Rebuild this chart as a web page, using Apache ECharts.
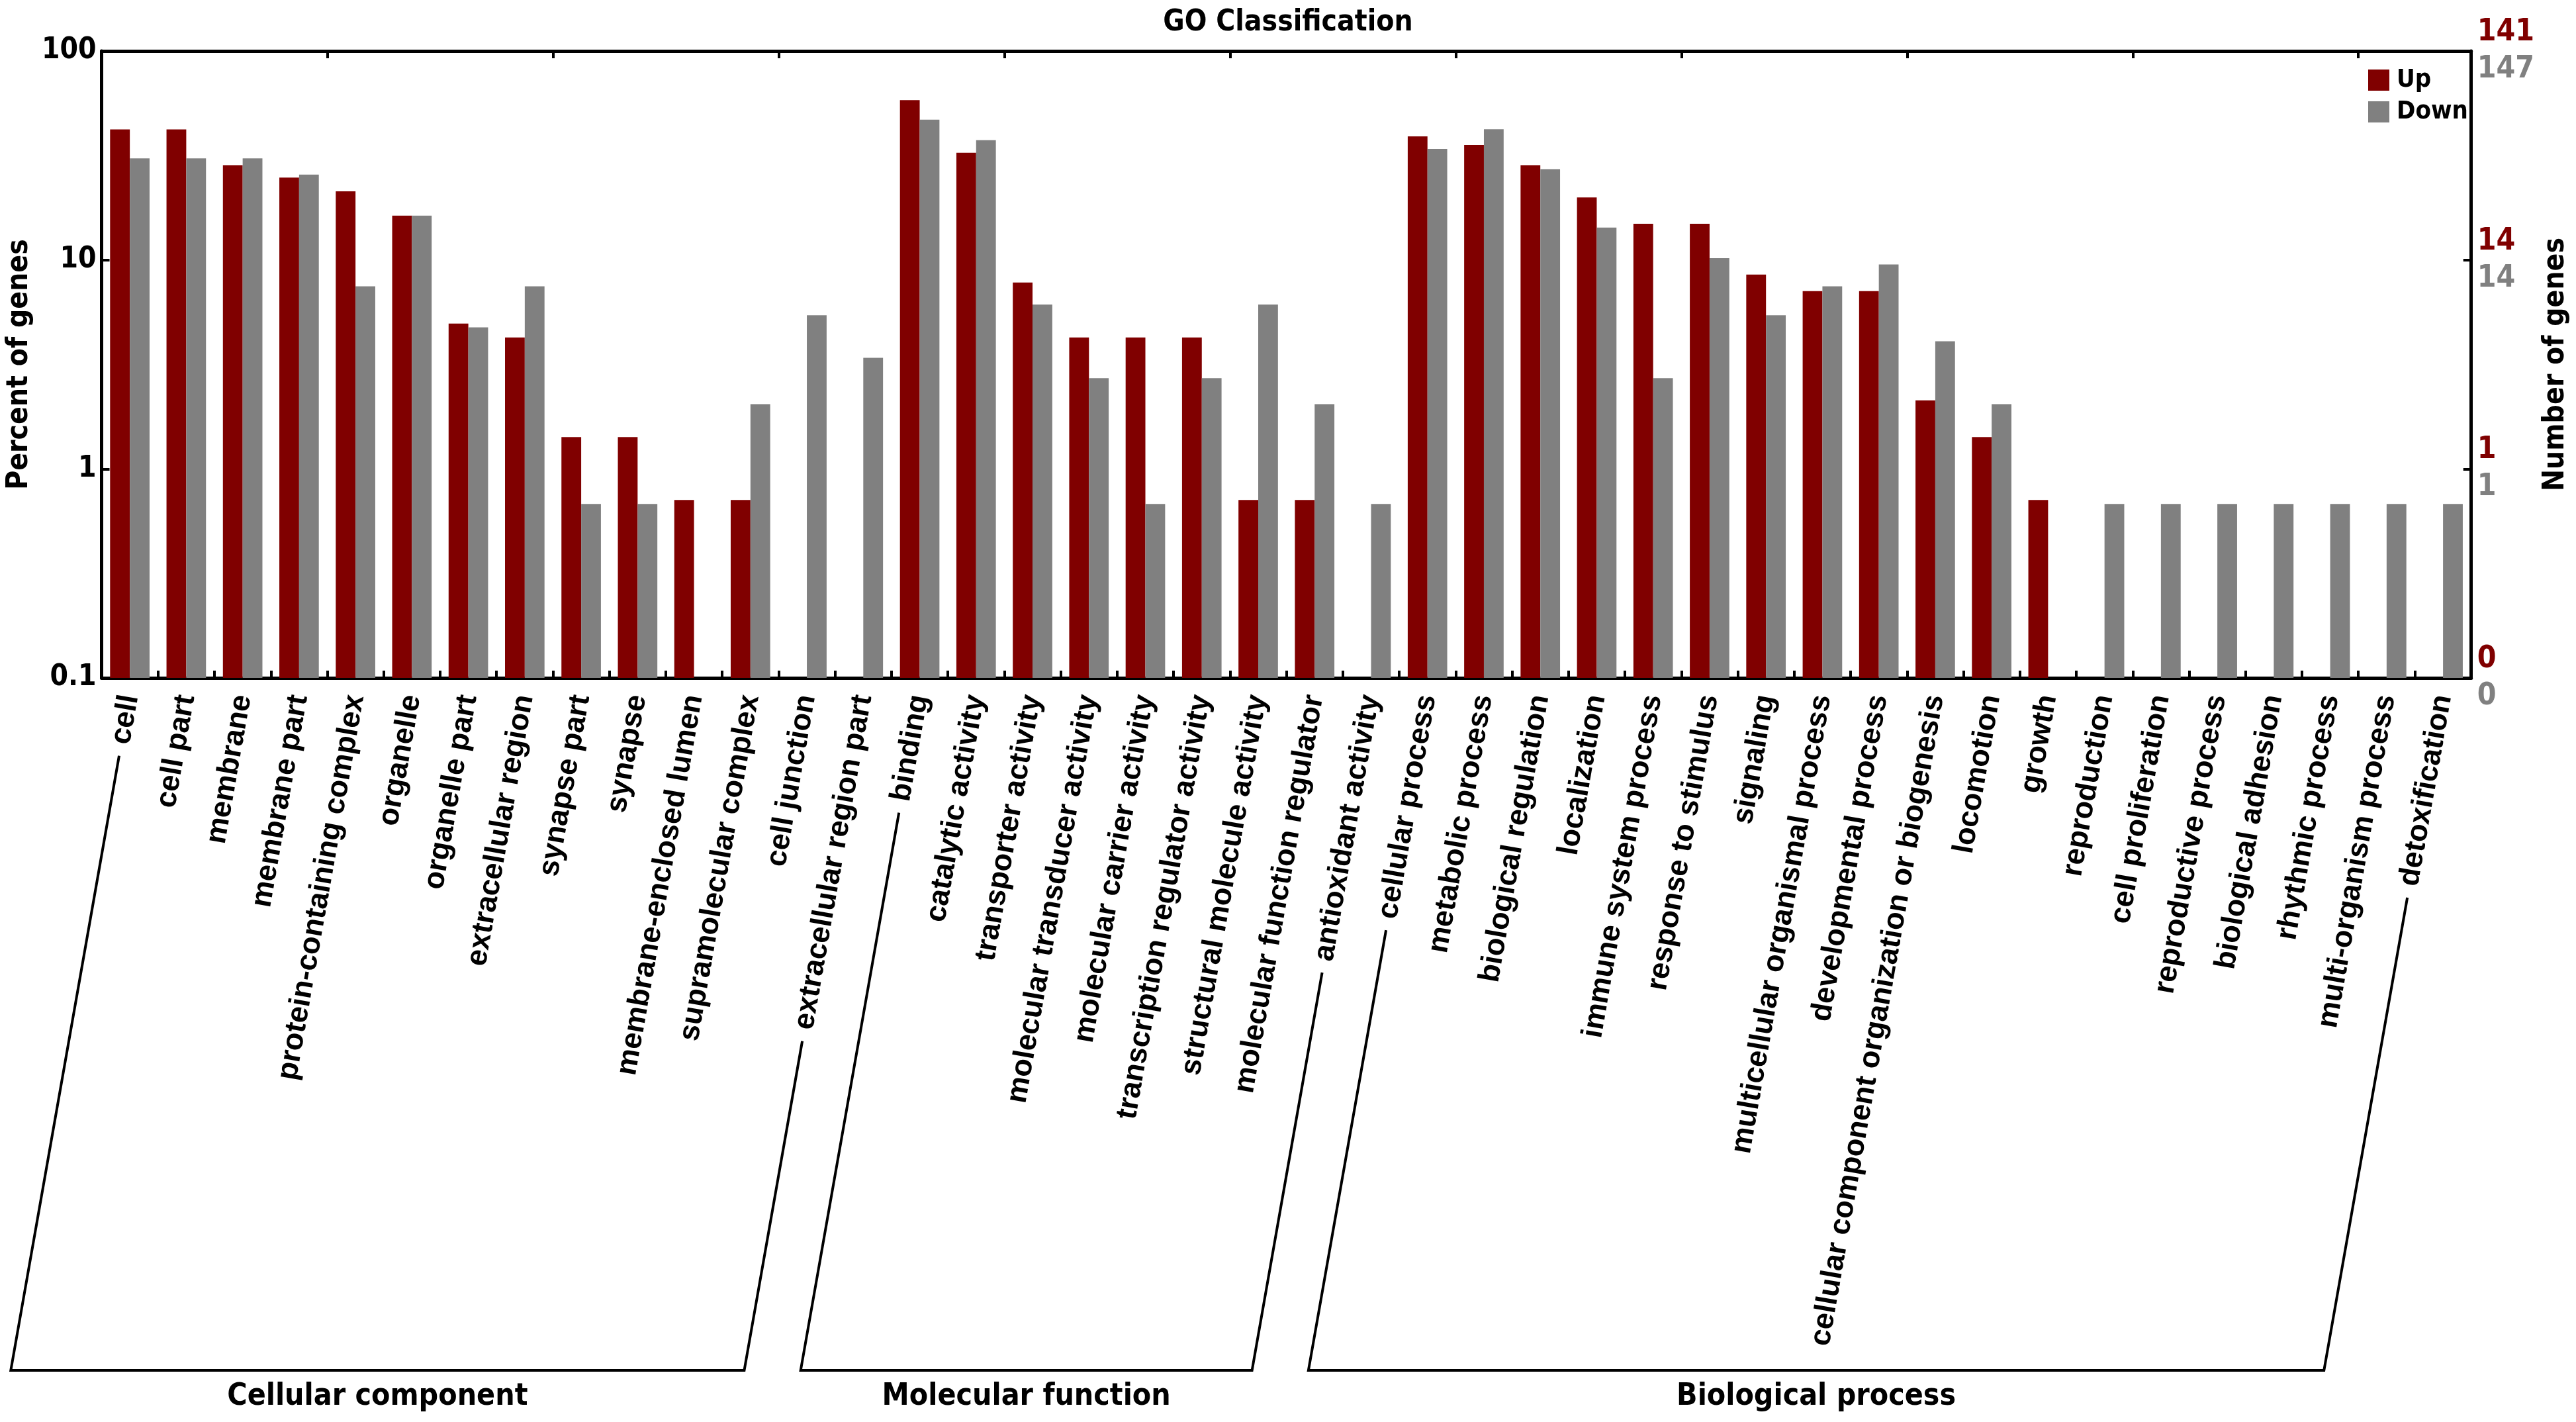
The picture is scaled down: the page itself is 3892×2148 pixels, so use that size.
<!DOCTYPE html>
<html>
<head>
<meta charset="utf-8">
<script src="https://cdn.jsdelivr.net/npm/echarts@6/dist/echarts.min.js"></script>
<style>
html, body { margin: 0; padding: 0; background: #fff; }
#main { width: 3892px; height: 2148px; }
</style>
</head>
<body>
<div id="main"></div>
<script>
// GO terms, left to right
var categories = [
    'cell', 'cell part', 'membrane', 'membrane part', 'protein-containing complex',
    'organelle', 'organelle part', 'extracellular region', 'synapse part', 'synapse',
    'membrane-enclosed lumen', 'supramolecular complex', 'cell junction', 'extracellular region part',
    'binding', 'catalytic activity', 'transporter activity', 'molecular transducer activity',
    'molecular carrier activity', 'transcription regulator activity', 'structural molecule activity',
    'molecular function regulator', 'antioxidant activity',
    'cellular process', 'metabolic process', 'biological regulation', 'localization',
    'immune system process', 'response to stimulus', 'signaling', 'multicellular organismal process',
    'developmental process', 'cellular component organization or biogenesis', 'locomotion', 'growth',
    'reproduction', 'cell proliferation', 'reproductive process', 'biological adhesion',
    'rhythmic process', 'multi-organism process', 'detoxification'
];

// percent of genes, null = no bar
var upPercent = [
    42.1, 42.1, 28.4, 24.8, 21.3, 16.3, 4.96, 4.26, 1.42, 1.42, 0.71, 0.71, null, null,
    58.2, 32.6, 7.80, 4.26, 4.26, 4.26, 0.71, 0.71, null,
    39.0, 35.5, 28.4, 19.9, 14.9, 14.9, 8.51, 7.09, 7.09, 2.13, 1.42, 0.71,
    null, null, null, null, null, null, null
];
var downPercent = [
    30.6, 30.6, 30.6, 25.6, 7.48, 16.3, 4.76, 7.48, 0.68, 0.68, null, 2.04, 5.44, 3.40,
    46.9, 37.4, 6.12, 2.72, 0.68, 2.72, 6.12, 2.04, 0.68,
    34.0, 42.2, 27.2, 14.3, 2.72, 10.2, 5.44, 7.48, 9.52, 4.08, 2.04, null,
    0.68, 0.68, 0.68, 0.68, 0.68, 0.68, 0.68
];

// right axis: gene counts at 0.1, 1, 10, 100 percent
var rightUpTicks = ['0', '1', '14', '141'];
var rightDownTicks = ['0', '1', '14', '147'];

var groups = [
    { name: 'Cellular component', from: 0, to: 13 },
    { name: 'Molecular function', from: 14, to: 22 },
    { name: 'Biological process', from: 23, to: 41 }
];

var RED = '#800000';
var GRAY = '#808080';
var NARROW = '"Liberation Sans Narrow", "Arial Narrow", "DejaVu Sans Condensed", sans-serif';
var LABEL_FONT = '"Liberation Sans", Arial, sans-serif';
var LABEL_SIZE = 45;
var LABEL_ROTATE = 80;
var LABEL_MARGIN = 26;

var chart = echarts.init(document.getElementById('main'));

var tickStyle = { show: true, inside: true, length: 11, lineStyle: { color: '#000', width: 4 } };
var lineStyle = { show: true, lineStyle: { color: '#000', width: 5 } };

var option = {
    animation: false,
    backgroundColor: '#fff',
    title: {
        text: 'GO Classification',
        left: 'center',
        top: 8,
        textStyle: { fontFamily: NARROW, fontWeight: 'bold', fontSize: 44, color: '#000' }
    },
    legend: {
        orient: 'vertical',
        left: 3578,
        top: 102,
        padding: 0,
        itemWidth: 32,
        itemHeight: 32,
        itemGap: 10,
        icon: 'rect',
        textStyle: { fontFamily: NARROW, fontWeight: 'bold', fontSize: 38, color: '#000', padding: [0, 0, 0, 6] },
        data: ['Up', 'Down']
    },
    grid: { left: 148, right: 156, top: 77, bottom: 1124, containLabel: false },
    xAxis: [
        {
            type: 'category',
            data: categories,
            position: 'bottom',
            axisLine: lineStyle,
            axisTick: tickStyle,
            splitLine: { show: false },
            axisLabel: {
                interval: 0,
                rotate: LABEL_ROTATE,
                margin: LABEL_MARGIN,
                fontFamily: LABEL_FONT,
                fontWeight: 'bold',
                fontSize: LABEL_SIZE,
                color: '#000'
            }
        },
        {
            type: 'category',
            data: categories,
            position: 'top',
            axisLine: lineStyle,
            axisTick: tickStyle,
            axisLabel: { show: false },
            splitLine: { show: false }
        }
    ],
    yAxis: [
        {
            type: 'log',
            logBase: 10,
            min: 0.1,
            max: 100,
            startValue: 0.1,
            position: 'left',
            name: 'Percent of genes',
            nameLocation: 'middle',
            nameRotate: 90,
            nameGap: 92,
            nameTextStyle: { fontFamily: NARROW, fontWeight: 'bold', fontSize: 44, color: '#000' },
            axisLine: lineStyle,
            axisTick: { show: true, inside: true, length: 12, lineStyle: { color: '#000', width: 4 } },
            splitLine: { show: false },
            minorTick: { show: false },
            axisLabel: {
                margin: 8,
                fontFamily: NARROW,
                fontWeight: 'bold',
                fontSize: 44,
                color: '#000',
                formatter: function (v) {
                    return v < 1 ? '0.1' : String(Math.round(v));
                }
            }
        },
        {
            type: 'log',
            logBase: 10,
            min: 0.1,
            max: 100,
            position: 'right',
            name: 'Number of genes',
            nameLocation: 'middle',
            nameRotate: 90,
            nameGap: 88,
            nameTextStyle: { fontFamily: NARROW, fontWeight: 'bold', fontSize: 44, color: '#000' },
            axisLine: lineStyle,
            axisTick: { show: true, inside: true, length: 12, lineStyle: { color: '#000', width: 4 } },
            splitLine: { show: false },
            axisLabel: {
                margin: 9,
                align: 'left',
                formatter: function (v) {
                    var k = Math.round(Math.log(v) / Math.LN10) + 1;
                    return '{u|' + rightUpTicks[k] + '}\n{d|' + rightDownTicks[k] + '}';
                },
                rich: {
                    u: { fontFamily: NARROW, fontWeight: 'bold', fontSize: 46, lineHeight: 56, color: RED },
                    d: { fontFamily: NARROW, fontWeight: 'bold', fontSize: 46, lineHeight: 56, color: GRAY }
                }
            }
        }
    ],
    series: [
        {
            name: 'Up',
            type: 'bar',
            xAxisIndex: 0,
            yAxisIndex: 0,
            data: upPercent,
            barGap: '0%',
            barCategoryGap: '30%',
            itemStyle: { color: RED }
        },
        {
            name: 'Down',
            type: 'bar',
            xAxisIndex: 0,
            yAxisIndex: 0,
            data: downPercent,
            barGap: '0%',
            barCategoryGap: '30%',
            itemStyle: { color: GRAY }
        }
    ]
};

chart.setOption(option);

// group brackets under the rotated category labels
function drawGroups() {
    var ctx = document.createElement('canvas').getContext('2d');
    ctx.font = 'bold ' + LABEL_SIZE + 'px ' + LABEL_FONT;
    var ang = LABEL_ROTATE * Math.PI / 180;
    var dx = -Math.cos(ang), dy = Math.sin(ang);
    var axisY = chart.convertToPixel({ yAxisIndex: 0 }, 0.1);
    var baseY = 2070;

    function labelEnd(i) {
        var x = chart.convertToPixel({ xAxisIndex: 0 }, i);
        var w = ctx.measureText(categories[i]).width + 18;
        return [x + dx * w, axisY + LABEL_MARGIN + dy * w];
    }
    function foot(p) {
        var t = (baseY - p[1]) / dy;
        return [p[0] + dx * t, baseY];
    }

    var elements = [];
    groups.forEach(function (g) {
        var a = labelEnd(g.from), b = labelEnd(g.to);
        var fa = foot(a), fb = foot(b);
        elements.push({
            type: 'polyline',
            shape: { points: [a, fa, fb, b] },
            style: { stroke: '#000', lineWidth: 4, fill: null }
        });
        elements.push({
            type: 'text',
            x: (fa[0] + fb[0]) / 2,
            y: baseY + 40,
            style: {
                text: g.name,
                align: 'center',
                verticalAlign: 'middle',
                fontFamily: NARROW,
                fontWeight: 'bold',
                fontSize: 46,
                fill: '#000'
            }
        });
    });
    chart.setOption({ graphic: elements });
}
drawGroups();
</script>
</body>
</html>
